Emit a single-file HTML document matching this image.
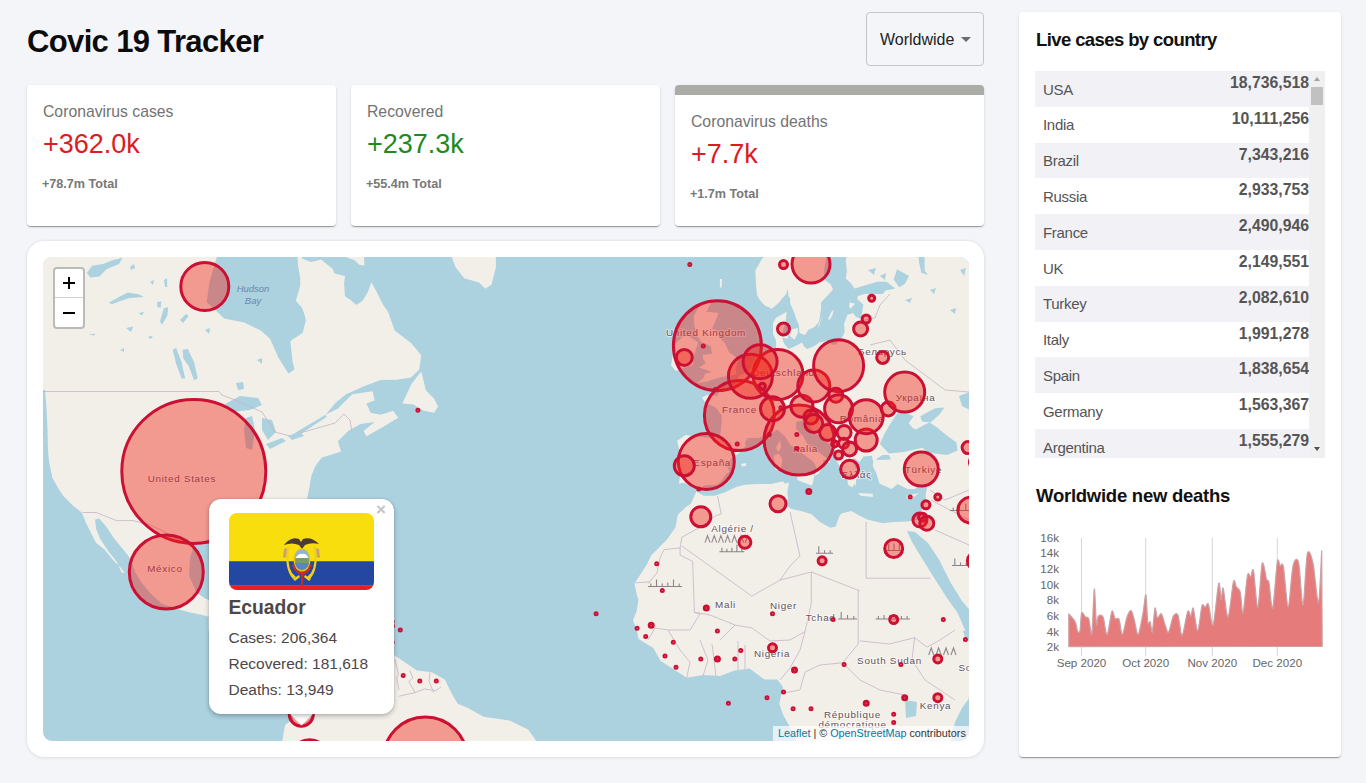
<!DOCTYPE html>
<html><head><meta charset="utf-8">
<style>
html,body{margin:0;padding:0;}
body{width:1366px;height:783px;overflow:hidden;background:#f4f5f9;font-family:"Liberation Sans",sans-serif;position:relative;}
.abs{position:absolute;}
h1{position:absolute;left:27px;top:22px;margin:0;font-size:31px;font-weight:bold;color:#0c0c0c;line-height:40px;letter-spacing:-0.64px;white-space:nowrap;}
.dd{position:absolute;left:866px;top:12px;width:116px;height:52px;border:1px solid #c5c5c8;border-radius:4px;}
.dd span{position:absolute;left:13px;top:18px;font-size:16px;line-height:18px;color:#222;}
.dd i{position:absolute;left:94px;top:24px;width:0;height:0;border-left:5px solid transparent;border-right:5px solid transparent;border-top:5px solid #6b6b6b;}
.card{position:absolute;top:85px;width:309px;height:141px;background:#fff;border-radius:4px;box-shadow:0 2px 1px -1px rgba(0,0,0,.2),0 1px 1px 0 rgba(0,0,0,.14),0 1px 3px 0 rgba(0,0,0,.12);overflow:hidden;}
.card .t{position:absolute;left:16px;top:18px;font-size:15.75px;line-height:18px;color:#737373;white-space:nowrap;}
.card .v{position:absolute;left:16px;top:42.5px;font-size:27px;line-height:32px;white-space:nowrap;}
.card .s{position:absolute;left:15px;top:91.5px;font-size:12.6px;line-height:14px;font-weight:bold;color:#787878;white-space:nowrap;}
.card.sel .bar{position:absolute;left:0;top:0;width:309px;height:10px;background:#abaca6;}
.card.sel .t{top:28px;} .card.sel .v{top:52.5px;} .card.sel .s{top:101.5px;}
.red{color:#dd1b22;} .green{color:#1d8a1d;}
.mapcard{position:absolute;left:27px;top:241px;width:957px;height:516px;background:#fff;border-radius:17px;box-shadow:0 0 3px rgba(40,60,90,.12),0 1px 4px rgba(0,0,0,.05);}
.map{position:absolute;left:43px;top:257px;width:926px;height:484px;overflow:hidden;border-radius:9px;}
.mapsvg{position:absolute;left:0;top:0;}
.lbl{font-family:"Liberation Sans",sans-serif;fill:#64525c;letter-spacing:0.7px;stroke:rgba(255,255,255,.55);stroke-width:2px;paint-order:stroke;stroke-linejoin:round;} .lblw{font-family:"Liberation Sans",sans-serif;fill:#6d87ad;font-style:italic;}
.zoom{position:absolute;left:53px;top:267px;width:28px;height:58px;border:2px solid rgba(0,0,0,.27);border-radius:4px;background:#fff;}
.zoom .p{position:absolute;left:0;top:0;width:28px;height:29px;border-bottom:1px solid #d6d0d0;box-sizing:border-box;}
.zoom .h{position:absolute;background:#000;}
.attr{position:absolute;left:773px;top:726px;width:191px;padding-left:5px;height:15px;background:rgba(255,255,255,.7);font-size:10.8px;line-height:15px;color:#333;white-space:nowrap;}
.attr b{font-weight:normal;color:#0078a8;}
.popup{position:absolute;left:209px;top:499px;width:185px;height:215px;background:#fff;border-radius:12px;box-shadow:0 2px 5px rgba(0,0,0,.26),0 0 2px rgba(0,0,0,.12);}
.tipc{position:absolute;left:281.5px;top:713px;width:40px;height:20px;overflow:hidden;}
.tip{position:absolute;left:11.5px;top:-8.5px;width:17px;height:17px;background:#fff;transform:rotate(45deg);}
.close{position:absolute;left:376px;top:501px;font-size:17px;line-height:18px;font-weight:bold;color:#c3c3c3;}
.flag{position:absolute;left:229px;top:513px;width:145px;height:77px;border-radius:8px;overflow:hidden;}
.pname{position:absolute;left:228.5px;top:597px;font-size:19.3px;line-height:22px;font-weight:bold;color:#4d4748;}
.pl{position:absolute;left:228.5px;font-size:15.5px;line-height:18px;color:#4d4748;white-space:nowrap;}
.panel{position:absolute;left:1019px;top:12px;width:322px;height:745px;background:#fff;border-radius:4px;box-shadow:0 2px 1px -1px rgba(0,0,0,.2),0 1px 1px 0 rgba(0,0,0,.14),0 1px 3px 0 rgba(0,0,0,.12);}
.h3{position:absolute;left:1036px;font-size:18.5px;line-height:22px;font-weight:bold;color:#111;white-space:nowrap;letter-spacing:-0.6px;}
.tblwrap{position:absolute;left:1035px;top:71px;width:290px;height:387px;overflow:hidden;}
.tbl{position:absolute;left:0;top:0;width:274px;height:387px;}
.row{position:absolute;left:0;width:274px;height:35.8px;background:#fff;}
.row.odd{background:#f2f1f6;}
.cn{position:absolute;left:8px;top:9.5px;font-size:15px;line-height:18px;color:#555;letter-spacing:-0.3px;}
.num{position:absolute;right:0;top:3px;font-size:15.8px;line-height:18px;font-weight:bold;color:#555;}
.sbtrack{position:absolute;left:274px;top:0;width:16px;height:387px;background:#f0f0f0;}
.sbthumb{position:absolute;left:276px;top:16px;width:12px;height:18px;background:#c1c1c1;}
.sbup{position:absolute;left:279px;top:6px;width:0;height:0;border-left:3.5px solid transparent;border-right:3.5px solid transparent;border-bottom:4px solid #a3a3a3;}
.sbdn{position:absolute;left:279px;top:376px;width:0;height:0;border-left:3.5px solid transparent;border-right:3.5px solid transparent;border-top:4px solid #505050;}
.chart{position:absolute;left:1019px;top:472px;}
.clbl{font-family:"Liberation Sans",sans-serif;font-size:11.6px;fill:#666;}
</style></head><body>
<h1>Covic 19 Tracker</h1>
<div class="dd"><span>Worldwide</span><i></i></div>
<div class="card" style="left:27px"><div class="t">Coronavirus cases</div><div class="v red">+362.0k</div><div class="s">+78.7m Total</div></div>
<div class="card" style="left:351px"><div class="t">Recovered</div><div class="v green">+237.3k</div><div class="s">+55.4m Total</div></div>
<div class="card sel" style="left:675px"><div class="bar"></div><div class="t">Coronavirus deaths</div><div class="v red">+7.7k</div><div class="s">+1.7m Total</div></div>
<div class="mapcard"></div>
<div class="map">
<svg class="mapsvg" width="926" height="484" viewBox="43 257 926 484">
<rect x="0" y="0" width="1400" height="900" fill="#acd1df"/>
<polygon points="30.0,240.0 216.8,240.0 216.8,257.0 209.7,281.6 206.6,302.0 217.8,312.2 224.0,318.4 244.4,322.5 260.8,330.6 270.0,338.8 278.2,357.2 288.4,373.6 294.5,369.5 292.5,361.3 290.4,340.9 302.7,332.7 305.8,320.4 304.6,315.0 302.0,307.7 295.8,300.7 300.2,285.8 300.2,277.8 298.5,268.2 297.6,258.5 297.6,240.0 302.0,240.0 302.0,258.5 310.8,262.0 321.3,259.4 327.5,264.7 332.7,269.1 334.5,273.5 345.0,276.1 344.1,284.0 345.0,296.3 350.3,299.8 356.4,305.1 362.6,300.7 367.9,291.9 371.4,282.2 376.7,291.9 382.8,304.2 388.1,312.1 394.7,330.6 411.0,342.9 421.3,355.2 419.2,369.5 411.0,377.6 396.7,379.7 380.8,380.0 364.5,386.1 346.1,394.3 335.9,402.5 325.6,414.8 337.9,408.6 352.2,394.3 372.6,391.2 374.7,400.4 366.5,403.5 370.6,412.7 380.8,414.8 393.1,410.7 398.2,417.8 382.9,427.0 366.5,436.2 363.5,431.1 374.7,421.9 360.4,424.0 348.1,431.1 337.9,441.3 341.0,451.5 321.5,457.7 315.4,465.9 311.3,476.1 309.3,488.3 307.2,498.6 300.0,520.0 290.0,545.0 285.0,575.0 270.0,560.0 250.0,545.0 230.0,540.0 208.5,539.0 194.2,545.2 190.1,557.4 189.1,575.8 196.3,592.2 204.4,598.3 213.0,601.4 240.0,610.0 300.0,640.0 330.0,650.0 394.8,655.6 405.9,663.0 417.0,670.4 431.9,672.2 444.8,679.6 452.2,694.4 457.8,703.7 467.0,707.4 483.7,716.7 509.6,720.4 528.1,729.6 535.6,739.8 537.0,760.0 279.0,760.0 285.0,725.0 300.0,714.0 260.0,680.0 208.5,630.0 208.5,616.7 200.3,614.6 190.1,612.6 175.8,608.5 161.5,603.4 149.3,592.2 141.1,582.0 135.0,571.7 130.9,559.5 124.7,551.3 114.5,539.0 106.3,526.8 99.2,518.6 95.1,519.6 96.1,528.8 100.2,539.0 108.4,551.3 116.6,561.5 121.7,572.8 124.7,572.8 120.6,567.6 112.5,559.5 104.3,549.3 96.1,543.1 92.0,535.0 85.9,522.7 81.8,512.5 73.6,506.3 63.4,496.1 59.3,490.0 52.3,477.7 49.0,461.3 48.0,451.1 47.5,430.0 46.5,408.0 45.0,390.0 30.0,390.0" fill="#f2efe9"/>
<polygon points="421.3,371.5 425.8,390.2 434.0,398.4 438.1,406.6 434.0,412.7 423.8,410.7 413.5,404.5 402.3,403.5 411.5,384.1 417.6,376.0" fill="#f2efe9"/>
<polygon points="451.6,240.0 451.6,257.0 455.8,267.6 464.2,278.2 479.0,282.4 485.3,288.7 491.6,284.5 495.9,267.6 495.9,240.0" fill="#f2efe9"/>
<polygon points="345.9,240.0 345.9,257.0 354.7,260.3 359.1,264.7 364.4,265.5 363.5,240.0" fill="#f2efe9"/>
<polygon points="755.0,240.0 769.7,234.0 769.7,252.7 762.0,258.7 755.4,270.4 755.9,282.9 757.0,295.0 759.2,299.3 764.8,305.6 771.9,308.7 779.1,302.4 782.4,298.2 786.2,293.9 787.4,288.4 788.5,296.0 790.1,298.2 790.1,303.5 794.0,311.8 796.2,319.0 798.9,325.0 799.5,332.9 805.0,334.9 808.3,330.0 814.4,327.0 818.8,322.0 819.9,315.9 821.0,308.7 821.0,302.4 828.1,295.0 833.1,289.5 830.3,284.0 824.3,279.5 824.3,268.1 826.5,257.5 833.1,249.0 841.4,240.3 844.1,234.0 828.0,240.0" fill="#f2efe9"/>
<polygon points="851.0,240.0 866.2,234.0 857.9,240.3 847.4,251.4 845.8,261.1 846.9,270.4 845.8,278.4 850.7,282.9 854.6,288.4 866.2,285.1 877.2,281.8 886.5,281.8 895.4,288.4 885.4,290.6 882.7,293.9 864.5,293.9 857.9,296.0 857.3,299.3 863.4,304.6 862.3,310.8 861.2,319.0 856.2,317.0 852.9,312.9 847.4,314.9 844.1,324.0 844.7,331.9 841.4,338.7 838.6,341.6 836.4,344.4 831.4,344.4 829.8,340.6 819.3,342.5 813.8,346.3 807.2,349.1 803.9,346.3 802.2,342.5 795.1,346.3 788.5,349.1 784.6,344.4 782.9,340.6 781.8,333.9 785.1,324.0 786.8,311.8 775.8,318.0 773.0,323.0 773.0,333.9 775.8,339.7 776.3,349.1 772.5,351.9 764.8,353.8 758.7,355.6 754.6,357.9 751.0,367.4 744.4,373.6 738.6,375.8 737.2,382.3 728.9,388.3 722.3,390.0 719.6,387.5 717.4,395.9 709.1,394.2 701.9,397.5 705.2,402.5 715.7,407.4 721.8,415.4 721.8,421.0 720.1,436.4 711.9,437.9 697.0,436.4 685.4,434.9 677.1,440.9 680.4,454.3 676.6,466.6 676.0,471.5 679.9,476.5 678.8,483.4 684.3,482.7 693.7,486.8 698.9,489.6 704.1,485.5 717.4,484.8 722.9,479.2 725.6,474.4 729.5,471.5 726.7,465.9 731.1,458.7 740.5,452.1 746.0,445.4 744.9,442.4 747.7,437.9 758.1,437.9 768.6,434.9 777.4,429.5 785.1,436.4 790.1,444.7 795.6,449.1 806.6,456.5 813.8,462.3 817.1,469.4 814.4,476.5 819.3,472.9 822.6,466.6 823.2,459.4 829.8,463.0 830.3,461.6 821.5,454.3 816.0,450.6 817.1,448.4 808.3,445.4 802.8,435.7 796.2,428.7 796.2,421.7 804.4,420.2 803.3,424.1 807.7,422.5 811.6,428.7 818.8,436.4 828.1,443.2 835.3,448.4 835.3,452.8 835.8,458.7 838.6,464.4 843.0,470.1 848.0,475.1 847.4,479.2 848.0,484.8 852.4,487.5 854.6,483.4 855.7,486.8 856.2,479.2 859.0,477.2 861.7,473.7 855.1,467.3 852.9,460.8 854.6,457.9 859.5,462.3 863.4,456.5 871.7,455.8 873.3,461.6 872.8,465.9 876.6,473.7 879.4,483.4 883.8,485.5 891.5,488.9 897.6,484.1 907.5,488.9 915.2,488.9 919.1,484.8 927.3,486.2 925.7,493.7 925.7,501.1 921.3,511.6 918.0,520.1 906.4,521.4 893.2,522.0 882.7,523.3 867.3,519.5 860.6,516.2 851.3,511.0 841.4,513.6 839.2,516.2 835.8,526.5 830.3,527.8 819.9,522.0 811.6,514.3 801.1,511.0 791.8,509.0 784.0,504.4 787.9,499.0 787.4,491.6 789.0,482.7 784.6,483.4 782.9,481.3 771.4,484.1 758.7,484.1 744.9,484.8 736.7,486.8 725.1,492.3 714.6,495.7 703.6,495.7 696.4,491.6 690.9,503.7 686.5,506.4 677.7,514.9 675.5,527.2 667.2,539.2 651.5,555.1 646.1,565.8 639.0,576.5 634.5,583.7 637.2,596.2 638.5,600.0 636.7,611.1 633.0,620.4 636.7,629.6 638.5,638.9 653.3,648.1 660.7,661.1 675.6,670.4 686.7,677.8 703.3,675.0 720.0,675.9 734.8,670.4 749.6,668.5 757.0,674.1 764.4,679.6 777.4,679.6 783.0,687.0 779.3,703.7 783.0,714.8 790.4,727.8 795.9,738.0 797.0,760.0 990.0,760.0 990.0,240.0" fill="#f2efe9"/>
<polygon points="711.3,302.4 706.3,311.8 718.5,312.9 716.8,318.0 711.9,329.0 716.3,330.0 720.7,338.7 725.1,343.5 728.9,351.9 737.8,358.4 738.0,362.0 735.5,368.3 736.1,371.9 735.5,374.5 722.3,377.1 714.6,378.9 707.4,381.5 697.0,383.2 703.6,378.0 705.2,373.6 711.9,371.9 706.3,370.1 699.2,367.4 705.8,362.9 703.0,358.4 703.0,354.7 711.9,353.8 710.8,346.3 700.8,341.6 697.5,335.8 694.2,325.0 693.7,315.9 699.7,305.6 700.8,302.4" fill="#f2efe9"/>
<polygon points="688.2,335.8 698.1,342.5 694.2,354.7 693.1,364.7 682.6,368.3 676.0,371.0 671.1,365.6 672.7,354.7 673.3,345.4 682.6,336.8" fill="#f2efe9"/>
<polygon points="797.8,475.1 814.4,474.4 812.7,483.4 811.6,485.5 797.3,479.9" fill="#f2efe9"/>
<polygon points="779.1,453.6 782.4,459.4 780.7,468.7 775.8,470.1 774.7,462.3 773.6,455.8" fill="#f2efe9"/>
<polygon points="780.2,440.2 781.3,446.9 778.5,452.1 775.8,447.7" fill="#f2efe9"/>
<polygon points="857.9,493.0 872.8,493.7 872.8,497.0 860.6,495.7" fill="#f2efe9"/>
<polygon points="906.4,495.7 919.1,493.0 910.2,499.7 906.9,498.4" fill="#f2efe9"/>
<polygon points="720.0,279.0 722.0,279.0 721.5,288.0 719.8,287.0" fill="#f2efe9"/>
<polygon points="741.0,464.0 746.0,463.0 746.0,466.0 742.0,466.5" fill="#f2efe9"/>
<polygon points="797.8,328.0 789.0,330.0 789.6,335.8 794.5,339.7 797.8,332.9" fill="#f2efe9"/>
<polygon points="833.6,309.8 831.4,311.8 828.1,319.0 829.8,320.0 832.5,314.9" fill="#f2efe9"/>
<polygon points="783.5,332.9 787.9,333.9 787.9,338.7 782.4,337.8" fill="#f2efe9"/>
<polygon points="822.1,315.9 818.8,327.0 818.2,326.0 821.5,317.0" fill="#f2efe9"/>
<polygon points="849.6,302.4 855.1,303.5 850.7,308.7 849.1,306.7" fill="#f2efe9"/>
<polygon points="882.1,438.7 879.9,443.9 888.8,453.6 903.6,452.1 922.4,447.7 928.4,452.8 947.2,455.0 957.6,450.6 956.5,442.4 947.2,435.7 936.7,427.2 929.5,422.5 924.0,424.9 915.8,429.5 913.0,428.0 908.6,423.3 913.6,416.2 904.2,412.2 897.6,413.0 892.6,420.2 886.0,431.1" fill="#acd1df"/>
<polygon points="907.0,531.0 912.0,542.0 923.0,560.0 934.6,578.5 946.2,597.0 957.7,613.1 964.7,629.3 975.0,640.0 975.0,616.0 962.4,601.6 950.8,583.1 939.3,560.0 928.0,543.0 915.0,532.0" fill="#acd1df"/>
<polygon points="959.0,396.0 970.0,392.0 970.0,410.0 962.0,406.0" fill="#acd1df"/>
<polygon points="975.0,628.0 963.0,631.0 966.0,640.0 975.0,643.0" fill="#acd1df"/>
<polygon points="955.0,722.0 962.0,708.0 975.0,690.0 975.0,745.0 950.0,745.0" fill="#acd1df"/>
<polygon points="920.2,416.2 935.0,408.2 944.4,407.4 939.5,414.6 930.6,422.5 922.4,421.7" fill="#acd1df"/>
<polygon points="875.5,459.4 882.7,455.0 888.8,455.0 891.0,459.4 879.9,460.1" fill="#acd1df"/>
<polygon points="897.0,269.3 909.1,276.1 904.7,284.0 899.2,287.3 893.7,279.5" fill="#acd1df"/>
<polygon points="918.5,255.1 924.6,257.5 924.6,270.4 927.9,275.0 921.3,272.7 919.1,262.2" fill="#acd1df"/>
<polygon points="86.8,272.9 92.2,265.7 102.9,263.9 111.8,260.4 122.6,257.7 119.0,263.9 106.5,269.3 99.3,276.5 90.4,277.4" fill="#acd1df"/>
<polygon points="109.1,302.4 120.8,296.1 127.9,292.6 138.6,294.3 144.0,297.0 129.7,297.9 119.0,301.5 111.8,304.2" fill="#acd1df"/>
<polygon points="163.7,308.6 168.2,306.9 167.3,315.8 161.9,324.7 160.1,321.2" fill="#acd1df"/>
<polygon points="157.0,302.0 161.5,301.5 160.5,308.0 157.5,307.0" fill="#acd1df"/>
<polygon points="182.5,349.8 187.8,348.9 194.1,362.3 197.7,378.4 194.1,380.2 188.7,365.9 183.4,358.7" fill="#acd1df"/>
<polygon points="172.6,349.8 176.2,348.0 181.6,362.3 185.1,378.4 181.6,378.4 176.2,364.1" fill="#acd1df"/>
<polygon points="138.6,313.0 144.0,312.0 142.0,315.8" fill="#acd1df"/>
<polygon points="126.0,328.0 133.3,326.5 131.0,331.9" fill="#acd1df"/>
<polygon points="147.6,337.0 153.0,335.5 151.0,339.0" fill="#acd1df"/>
<polygon points="88.6,334.5 95.7,333.7 94.0,335.5" fill="#acd1df"/>
<polygon points="180.0,320.0 186.0,314.0 188.7,316.0 183.0,323.0" fill="#acd1df"/>
<polygon points="164.0,280.0 167.0,278.0 167.3,287.0 165.0,287.0" fill="#acd1df"/>
<polygon points="130.0,267.0 134.0,264.0 135.0,268.0 131.0,270.0" fill="#acd1df"/>
<polygon points="150.0,282.0 154.0,280.0 153.0,285.0" fill="#acd1df"/>
<polygon points="205.0,330.0 210.0,328.0 209.0,334.0" fill="#acd1df"/>
<polygon points="236.0,383.0 243.0,382.0 244.0,389.0 238.0,390.0" fill="#acd1df"/>
<polygon points="257.0,360.0 262.0,358.0 262.0,364.0" fill="#acd1df"/>
<polygon points="120.0,350.0 124.0,348.0 124.0,352.0" fill="#acd1df"/>
<polygon points="868.0,270.0 876.0,268.0 874.0,275.0" fill="#acd1df"/>
<polygon points="880.0,276.0 886.0,273.0 885.0,280.0" fill="#acd1df"/>
<polygon points="905.0,300.0 912.0,298.0 910.0,303.0" fill="#acd1df"/>
<polygon points="930.0,290.0 936.0,288.0 934.0,294.0" fill="#acd1df"/>
<polygon points="950.0,310.0 956.0,308.0 955.0,314.0" fill="#acd1df"/>
<polygon points="960.0,270.0 966.0,268.0 964.0,276.0" fill="#acd1df"/>
<polygon points="225.0,404.0 240.0,396.0 258.0,398.0 262.0,405.0 250.0,410.0 232.0,412.0" fill="#acd1df"/>
<polygon points="246.0,418.0 252.0,416.0 255.0,430.0 252.0,450.0 246.0,448.0 244.0,430.0" fill="#acd1df"/>
<polygon points="262.0,418.0 272.0,420.0 276.0,432.0 268.0,440.0 262.0,430.0" fill="#acd1df"/>
<polygon points="266.0,444.0 282.0,438.0 286.0,441.0 270.0,449.0" fill="#acd1df"/>
<polygon points="288.0,436.0 300.0,432.0 304.0,436.0 292.0,440.0" fill="#acd1df"/>
<polygon points="905.0,700.0 917.0,702.0 916.0,716.0 906.0,718.0" fill="#acd1df"/>
<polygon points="325.6,414.8 300.0,430.0 290.0,436.0 291.0,438.0 302.0,433.0 326.5,417.0" fill="#acd1df"/>
<polyline points="409.6,670.4 413.0,678.0 408.7,681.5 415.2,692.6" fill="none" stroke="#c6b3c6" stroke-width="0.8"/>
<polyline points="430.0,672.2 429.0,681.5 433.7,692.6" fill="none" stroke="#c6b3c6" stroke-width="0.8"/>
<polyline points="398.5,696.3 415.2,692.6 424.4,688.9 435.6,690.7 441.0,687.0" fill="none" stroke="#c6b3c6" stroke-width="0.8"/>
<polyline points="394.8,659.0 398.5,674.0 396.7,678.0 399.0,690.0" fill="none" stroke="#c6b3c6" stroke-width="0.8"/>
<polyline points="43.0,391.5 219.0,391.5 222.0,395.0 240.0,402.0 262.0,412.0 275.0,432.0 290.0,436.0" fill="none" stroke="#c6b3c6" stroke-width="0.8"/>
<polyline points="300.0,433.0 335.0,423.0 344.0,414.0 350.0,420.0 352.0,432.0" fill="none" stroke="#c6b3c6" stroke-width="0.8"/>
<polyline points="82.8,512.5 96.1,512.5 116.6,520.6 132.9,520.6 149.3,524.7 165.0,532.0 178.0,540.0 190.0,545.0" fill="none" stroke="#c6b3c6" stroke-width="0.8"/>
<polyline points="717.6,496.1 721.2,514.0 715.8,515.7 701.5,526.5 681.9,537.2 680.1,547.9" fill="none" stroke="#c6b3c6" stroke-width="0.8"/>
<polyline points="680.1,547.9 664.0,549.7 660.4,556.9 656.9,572.9 648.0,583.7" fill="none" stroke="#c6b3c6" stroke-width="0.8"/>
<polyline points="635.4,582.8 649.7,581.9" fill="none" stroke="#c6b3c6" stroke-width="0.8"/>
<polyline points="680.1,547.9 680.1,555.1 692.6,561.3 694.4,612.3 700.0,614.0" fill="none" stroke="#c6b3c6" stroke-width="0.8"/>
<polyline points="681.9,546.1 744.4,590.8 751.6,596.2 780.0,580.1 790.0,566.0 800.0,556.0 790.0,512.0" fill="none" stroke="#c6b3c6" stroke-width="0.8"/>
<polyline points="866.1,521.9 866.1,578.2 930.2,578.2" fill="none" stroke="#c6b3c6" stroke-width="0.8"/>
<polyline points="780.0,580.1 811.3,572.0 859.8,590.8" fill="none" stroke="#c6b3c6" stroke-width="0.8"/>
<polyline points="858.2,590.8 858.2,644.0 842.6,662.8" fill="none" stroke="#c6b3c6" stroke-width="0.8"/>
<polyline points="859.8,640.8 889.5,644.0 914.6,637.7 927.1,647.1" fill="none" stroke="#c6b3c6" stroke-width="0.8"/>
<polyline points="811.3,572.0 811.3,603.3 805.0,631.5 790.0,640.0 770.0,641.0 752.0,628.0 735.0,625.0 720.0,640.0" fill="none" stroke="#c6b3c6" stroke-width="0.8"/>
<polyline points="694.4,612.3 710.0,615.0 735.0,625.0" fill="none" stroke="#c6b3c6" stroke-width="0.8"/>
<polyline points="700.0,614.0 690.0,630.0 668.0,630.0 655.0,628.0" fill="none" stroke="#c6b3c6" stroke-width="0.8"/>
<polyline points="655.0,628.0 648.0,640.0" fill="none" stroke="#c6b3c6" stroke-width="0.8"/>
<polyline points="668.0,630.0 680.0,650.0 690.0,662.0 686.7,677.8" fill="none" stroke="#c6b3c6" stroke-width="0.8"/>
<polyline points="700.0,640.0 708.0,660.0 703.3,675.0" fill="none" stroke="#c6b3c6" stroke-width="0.8"/>
<polyline points="712.0,644.0 716.0,676.0" fill="none" stroke="#c6b3c6" stroke-width="0.8"/>
<polyline points="738.0,641.0 738.0,670.0" fill="none" stroke="#c6b3c6" stroke-width="0.8"/>
<polyline points="745.0,645.0 745.0,669.0" fill="none" stroke="#c6b3c6" stroke-width="0.8"/>
<polyline points="805.0,631.5 800.0,650.0 790.0,668.0 780.0,680.0" fill="none" stroke="#c6b3c6" stroke-width="0.8"/>
<polyline points="842.6,662.8 820.0,665.0 805.0,672.0 800.0,690.0 783.0,693.0" fill="none" stroke="#c6b3c6" stroke-width="0.8"/>
<polyline points="842.6,662.8 860.0,680.0 880.0,690.0 905.0,695.0" fill="none" stroke="#c6b3c6" stroke-width="0.8"/>
<polyline points="927.1,647.1 940.0,640.0 955.0,630.0" fill="none" stroke="#c6b3c6" stroke-width="0.8"/>
<polyline points="914.6,637.7 912.0,660.0 925.0,680.0 940.0,690.0 955.0,700.0" fill="none" stroke="#c6b3c6" stroke-width="0.8"/>
<polyline points="905.0,360.0 925.0,375.0 945.0,390.0 969.0,392.0" fill="none" stroke="#c6b3c6" stroke-width="0.8"/>
<polyline points="870.0,345.0 890.0,340.0 905.0,360.0" fill="none" stroke="#c6b3c6" stroke-width="0.8"/>
<polyline points="862.8,320.5 875.0,318.0 880.0,305.0 890.0,294.0" fill="none" stroke="#c6b3c6" stroke-width="0.8"/>
<polyline points="930.0,490.0 945.0,500.0 969.0,490.0" fill="none" stroke="#c6b3c6" stroke-width="0.8"/>
<polyline points="931.0,500.0 969.0,520.0" fill="none" stroke="#c6b3c6" stroke-width="0.8"/>
<polyline points="935.0,530.0 969.0,545.0" fill="none" stroke="#c6b3c6" stroke-width="0.8"/>
<text x="181.9" y="481.6" font-size="9.9" text-anchor="middle" class="lbl">United States</text>
<text x="164.9" y="572.3" font-size="9.9" text-anchor="middle" class="lbl">México</text>
<text x="706.0" y="336.0" font-size="9.9" text-anchor="middle" class="lbl">United Kingdom</text>
<text x="739.5" y="412.9" font-size="9.9" text-anchor="middle" class="lbl">France</text>
<text x="712.2" y="465.6" font-size="9.9" text-anchor="middle" class="lbl">España</text>
<text x="805.5" y="451.9" font-size="9.9" text-anchor="middle" class="lbl">Italia</text>
<text x="783.5" y="376.4" font-size="9.9" text-anchor="middle" class="lbl">Deutschland</text>
<text x="862.0" y="421.6" font-size="9.9" text-anchor="middle" class="lbl">România</text>
<text x="915.5" y="401.0" font-size="9.9" text-anchor="middle" class="lbl">Україна</text>
<text x="882.5" y="355.0" font-size="9.9" text-anchor="middle" class="lbl">Беларусь</text>
<text x="923.5" y="473.0" font-size="9.9" text-anchor="middle" class="lbl">Türkiye</text>
<text x="856.5" y="478.3" font-size="9.9" text-anchor="middle" class="lbl">Ελλάς</text>
<text x="732.5" y="532.4" font-size="9.9" text-anchor="middle" class="lbl">Algérie /</text>
<text x="725.5" y="608.4" font-size="9.9" text-anchor="middle" class="lbl">Mali</text>
<text x="783.5" y="608.9" font-size="9.9" text-anchor="middle" class="lbl">Niger</text>
<text x="805.7" y="621.1" font-size="9.9" text-anchor="start" class="lbl">Tchad</text>
<text x="772.0" y="657.1" font-size="9.9" text-anchor="middle" class="lbl">Nigeria</text>
<text x="889.5" y="664.0" font-size="9.9" text-anchor="middle" class="lbl">South Sudan</text>
<text x="935.5" y="708.7" font-size="9.9" text-anchor="middle" class="lbl">Kenya</text>
<text x="852.5" y="718.1" font-size="9.9" text-anchor="middle" class="lbl">République</text>
<text x="852.5" y="727.6" font-size="9.9" text-anchor="middle" class="lbl">démocratique</text>
<text x="958.5" y="671.2" font-size="9.9" text-anchor="start" class="lbl">So</text>
<text x="253.0" y="292.3" font-size="9.5" text-anchor="middle" class="lblw">Hudson</text>
<text x="253.0" y="304.0" font-size="9.5" text-anchor="middle" class="lblw">Bay</text>
<path d="M719.4,551.8 L744.4,551.8 M721.9,551.8 L721.9,547.8 M726.9,551.8 L726.9,548.8 M731.9,551.8 L731.9,547.8 M736.9,551.8 L736.9,544.8 M741.9,551.8 L741.9,548.8" stroke="#6a5d66" stroke-width="1.1" fill="none" opacity="0.75"/>
<path d="M648.0,586.5 L682.0,586.5 M650.8,586.5 L650.8,583.5 M656.5,586.5 L656.5,579.5 M662.2,586.5 L662.2,583.5 M667.8,586.5 L667.8,582.5 M673.5,586.5 L673.5,579.5 M679.2,586.5 L679.2,583.5" stroke="#6a5d66" stroke-width="1.1" fill="none" opacity="0.75"/>
<path d="M816.0,553.3 L833.0,553.3 M818.8,553.3 L818.8,546.3 M824.5,553.3 L824.5,550.3 M830.2,553.3 L830.2,550.3" stroke="#6a5d66" stroke-width="1.1" fill="none" opacity="0.75"/>
<path d="M875.5,619.0 L910.0,619.0 M878.4,619.0 L878.4,616.0 M884.1,619.0 L884.1,615.0 M889.9,619.0 L889.9,615.0 M895.6,619.0 L895.6,616.0 M901.4,619.0 L901.4,616.0 M907.1,619.0 L907.1,616.0" stroke="#6a5d66" stroke-width="1.1" fill="none" opacity="0.75"/>
<path d="M838.0,619.0 L857.0,619.0 M841.2,619.0 L841.2,612.0 M847.5,619.0 L847.5,615.0 M853.8,619.0 L853.8,616.0" stroke="#6a5d66" stroke-width="1.1" fill="none" opacity="0.75"/>
<path d="M952.0,565.5 L969.0,565.5 M954.8,565.5 L954.8,558.5 M960.5,565.5 L960.5,562.5 M966.2,565.5 L966.2,562.5" stroke="#6a5d66" stroke-width="1.1" fill="none" opacity="0.75"/>
<path d="M886.0,550.5 L902.0,550.5 M888.7,550.5 L888.7,543.5 M894.0,550.5 L894.0,543.5 M899.3,550.5 L899.3,543.5" stroke="#6a5d66" stroke-width="1.1" fill="none" opacity="0.75"/>
<path d="M950.0,510.5 L969.0,510.5 M953.2,510.5 L953.2,507.5 M959.5,510.5 L959.5,503.5 M965.8,510.5 L965.8,503.5" stroke="#6a5d66" stroke-width="1.1" fill="none" opacity="0.75"/>
<path d=" M705.0,542.6 L707.5,535.6 L710.0,542.6 M711.7,542.6 L714.2,535.6 L716.7,542.6 M718.4,542.6 L720.9,535.6 L723.4,542.6 M725.1,542.6 L727.6,535.6 L730.1,542.6 M731.9,542.6 L734.4,535.6 L736.9,542.6 M738.6,542.6 L741.1,535.6 L743.6,542.6 M745.3,542.6 L747.8,535.6 L750.3,542.6" stroke="#6a5d66" stroke-width="1.1" fill="none" opacity="0.7"/>
<path d=" M928.7,655.0 L931.2,648.0 L933.7,655.0 M936.1,655.0 L938.6,648.0 L941.1,655.0 M943.5,655.0 L946.0,648.0 L948.5,655.0 M951.0,655.0 L953.5,648.0 L956.0,655.0" stroke="#6a5d66" stroke-width="1.1" fill="none" opacity="0.7"/>
<ellipse cx="193.8" cy="471.4" rx="72" ry="72" fill="#f22116" fill-opacity="0.42" stroke="#cc1034" stroke-width="3"/>
<ellipse cx="204.8" cy="286.5" rx="24" ry="24" fill="#f22116" fill-opacity="0.42" stroke="#cc1034" stroke-width="3"/>
<ellipse cx="166.3" cy="572.0" rx="37" ry="37" fill="#f22116" fill-opacity="0.42" stroke="#cc1034" stroke-width="3"/>
<ellipse cx="425.3" cy="759.0" rx="42" ry="42" fill="#f22116" fill-opacity="0.42" stroke="#cc1034" stroke-width="3"/>
<ellipse cx="309.6" cy="758.7" rx="19" ry="19" fill="#f22116" fill-opacity="0.42" stroke="#cc1034" stroke-width="3"/>
<ellipse cx="301.3" cy="714.2" rx="12" ry="12" fill="#f22116" fill-opacity="0.42" stroke="#cc1034" stroke-width="3"/>
<ellipse cx="331.6" cy="681.1" rx="20" ry="20" fill="#f22116" fill-opacity="0.42" stroke="#cc1034" stroke-width="3"/>
<ellipse cx="364.7" cy="658.9" rx="3" ry="3" fill="#f22116" fill-opacity="0.42" stroke="#cc1034" stroke-width="3"/>
<ellipse cx="403.2" cy="675.6" rx="1" ry="1" fill="#f22116" fill-opacity="0.42" stroke="#cc1034" stroke-width="3"/>
<ellipse cx="419.8" cy="681.1" rx="1" ry="1" fill="#f22116" fill-opacity="0.42" stroke="#cc1034" stroke-width="3"/>
<ellipse cx="436.3" cy="681.1" rx="1" ry="1" fill="#f22116" fill-opacity="0.42" stroke="#cc1034" stroke-width="3"/>
<ellipse cx="400.3" cy="630.0" rx="1" ry="1" fill="#f22116" fill-opacity="0.42" stroke="#cc1034" stroke-width="3"/>
<ellipse cx="392.2" cy="642.2" rx="1" ry="1" fill="#f22116" fill-opacity="0.42" stroke="#cc1034" stroke-width="3"/>
<ellipse cx="387.8" cy="607.8" rx="1" ry="1" fill="#f22116" fill-opacity="0.42" stroke="#cc1034" stroke-width="3"/>
<ellipse cx="388.5" cy="635.9" rx="1" ry="1" fill="#f22116" fill-opacity="0.42" stroke="#cc1034" stroke-width="3"/>
<ellipse cx="391.1" cy="629.5" rx="1" ry="1" fill="#f22116" fill-opacity="0.42" stroke="#cc1034" stroke-width="3"/>
<ellipse cx="392.4" cy="625.9" rx="1" ry="1" fill="#f22116" fill-opacity="0.42" stroke="#cc1034" stroke-width="3"/>
<ellipse cx="392.2" cy="621.4" rx="1" ry="1" fill="#f22116" fill-opacity="0.42" stroke="#cc1034" stroke-width="3"/>
<ellipse cx="389.0" cy="612.4" rx="1" ry="1" fill="#f22116" fill-opacity="0.42" stroke="#cc1034" stroke-width="3"/>
<ellipse cx="390.4" cy="617.2" rx="1" ry="1" fill="#f22116" fill-opacity="0.42" stroke="#cc1034" stroke-width="3"/>
<ellipse cx="417.9" cy="410.3" rx="1" ry="1" fill="#f22116" fill-opacity="0.42" stroke="#cc1034" stroke-width="3"/>
<ellipse cx="371.6" cy="514.7" rx="1" ry="1" fill="#f22116" fill-opacity="0.42" stroke="#cc1034" stroke-width="3"/>
<ellipse cx="717.4" cy="345.7" rx="44" ry="45" fill="#f22116" fill-opacity="0.42" stroke="#cc1034" stroke-width="3"/>
<ellipse cx="684.3" cy="357.4" rx="8" ry="8" fill="#f22116" fill-opacity="0.42" stroke="#cc1034" stroke-width="3"/>
<ellipse cx="703.3" cy="346.0" rx="1" ry="1" fill="#f22116" fill-opacity="0.42" stroke="#cc1034" stroke-width="3"/>
<ellipse cx="715.4" cy="389.4" rx="1" ry="1" fill="#f22116" fill-opacity="0.42" stroke="#cc1034" stroke-width="3"/>
<ellipse cx="689.8" cy="264.6" rx="1" ry="1" fill="#f22116" fill-opacity="0.42" stroke="#cc1034" stroke-width="3"/>
<ellipse cx="739.4" cy="415.6" rx="35" ry="35" fill="#f22116" fill-opacity="0.42" stroke="#cc1034" stroke-width="3"/>
<ellipse cx="706.3" cy="461.5" rx="28" ry="28" fill="#f22116" fill-opacity="0.42" stroke="#cc1034" stroke-width="3"/>
<ellipse cx="684.3" cy="465.8" rx="10" ry="10" fill="#f22116" fill-opacity="0.42" stroke="#cc1034" stroke-width="3"/>
<ellipse cx="737.2" cy="443.9" rx="1" ry="1" fill="#f22116" fill-opacity="0.42" stroke="#cc1034" stroke-width="3"/>
<ellipse cx="698.8" cy="489.0" rx="1" ry="1" fill="#f22116" fill-opacity="0.42" stroke="#cc1034" stroke-width="3"/>
<ellipse cx="799.1" cy="440.1" rx="35" ry="35" fill="#f22116" fill-opacity="0.42" stroke="#cc1034" stroke-width="3"/>
<ellipse cx="796.8" cy="434.4" rx="1" ry="1" fill="#f22116" fill-opacity="0.42" stroke="#cc1034" stroke-width="3"/>
<ellipse cx="797.0" cy="448.4" rx="1" ry="1" fill="#f22116" fill-opacity="0.42" stroke="#cc1034" stroke-width="3"/>
<ellipse cx="808.8" cy="491.4" rx="2" ry="2" fill="#f22116" fill-opacity="0.42" stroke="#cc1034" stroke-width="3"/>
<ellipse cx="769.2" cy="434.6" rx="1" ry="1" fill="#f22116" fill-opacity="0.42" stroke="#cc1034" stroke-width="3"/>
<ellipse cx="778.0" cy="374.6" rx="25" ry="25" fill="#f22116" fill-opacity="0.42" stroke="#cc1034" stroke-width="3"/>
<ellipse cx="750.4" cy="376.3" rx="22" ry="22" fill="#f22116" fill-opacity="0.42" stroke="#cc1034" stroke-width="3"/>
<ellipse cx="760.1" cy="361.7" rx="17" ry="17" fill="#f22116" fill-opacity="0.42" stroke="#cc1034" stroke-width="3"/>
<ellipse cx="762.4" cy="386.2" rx="3" ry="3" fill="#f22116" fill-opacity="0.42" stroke="#cc1034" stroke-width="3"/>
<ellipse cx="772.5" cy="408.8" rx="12" ry="12" fill="#f22116" fill-opacity="0.42" stroke="#cc1034" stroke-width="3"/>
<ellipse cx="780.9" cy="407.7" rx="1" ry="1" fill="#f22116" fill-opacity="0.42" stroke="#cc1034" stroke-width="3"/>
<ellipse cx="801.9" cy="406.2" rx="11" ry="11" fill="#f22116" fill-opacity="0.42" stroke="#cc1034" stroke-width="3"/>
<ellipse cx="813.8" cy="385.9" rx="16" ry="16" fill="#f22116" fill-opacity="0.42" stroke="#cc1034" stroke-width="3"/>
<ellipse cx="838.6" cy="365.7" rx="25" ry="26" fill="#f22116" fill-opacity="0.42" stroke="#cc1034" stroke-width="3"/>
<ellipse cx="835.8" cy="395.3" rx="7" ry="7" fill="#f22116" fill-opacity="0.42" stroke="#cc1034" stroke-width="3"/>
<ellipse cx="838.6" cy="408.8" rx="14" ry="14" fill="#f22116" fill-opacity="0.42" stroke="#cc1034" stroke-width="3"/>
<ellipse cx="811.0" cy="416.9" rx="7" ry="7" fill="#f22116" fill-opacity="0.42" stroke="#cc1034" stroke-width="3"/>
<ellipse cx="813.8" cy="423.5" rx="9" ry="9" fill="#f22116" fill-opacity="0.42" stroke="#cc1034" stroke-width="3"/>
<ellipse cx="827.6" cy="432.5" rx="8" ry="8" fill="#f22116" fill-opacity="0.42" stroke="#cc1034" stroke-width="3"/>
<ellipse cx="844.1" cy="432.5" rx="7" ry="7" fill="#f22116" fill-opacity="0.42" stroke="#cc1034" stroke-width="3"/>
<ellipse cx="834.7" cy="443.9" rx="3" ry="3" fill="#f22116" fill-opacity="0.42" stroke="#cc1034" stroke-width="3"/>
<ellipse cx="843.6" cy="443.2" rx="5" ry="5" fill="#f22116" fill-opacity="0.42" stroke="#cc1034" stroke-width="3"/>
<ellipse cx="838.6" cy="455.0" rx="4" ry="4" fill="#f22116" fill-opacity="0.42" stroke="#cc1034" stroke-width="3"/>
<ellipse cx="849.6" cy="448.9" rx="7" ry="7" fill="#f22116" fill-opacity="0.42" stroke="#cc1034" stroke-width="3"/>
<ellipse cx="849.6" cy="469.3" rx="9" ry="9" fill="#f22116" fill-opacity="0.42" stroke="#cc1034" stroke-width="3"/>
<ellipse cx="866.2" cy="440.1" rx="11" ry="11" fill="#f22116" fill-opacity="0.42" stroke="#cc1034" stroke-width="3"/>
<ellipse cx="866.2" cy="416.7" rx="17" ry="17" fill="#f22116" fill-opacity="0.42" stroke="#cc1034" stroke-width="3"/>
<ellipse cx="888.2" cy="408.9" rx="7" ry="7" fill="#f22116" fill-opacity="0.42" stroke="#cc1034" stroke-width="3"/>
<ellipse cx="904.7" cy="392.1" rx="20" ry="20" fill="#f22116" fill-opacity="0.42" stroke="#cc1034" stroke-width="3"/>
<ellipse cx="882.7" cy="357.4" rx="6" ry="6" fill="#f22116" fill-opacity="0.42" stroke="#cc1034" stroke-width="3"/>
<ellipse cx="860.6" cy="328.9" rx="7" ry="7" fill="#f22116" fill-opacity="0.42" stroke="#cc1034" stroke-width="3"/>
<ellipse cx="866.2" cy="319.0" rx="4" ry="4" fill="#f22116" fill-opacity="0.42" stroke="#cc1034" stroke-width="3"/>
<ellipse cx="871.7" cy="298.2" rx="3" ry="3" fill="#f22116" fill-opacity="0.42" stroke="#cc1034" stroke-width="3"/>
<ellipse cx="871.7" cy="240.3" rx="5" ry="5" fill="#f22116" fill-opacity="0.42" stroke="#cc1034" stroke-width="3"/>
<ellipse cx="811.0" cy="264.1" rx="19" ry="19" fill="#f22116" fill-opacity="0.42" stroke="#cc1034" stroke-width="3"/>
<ellipse cx="783.5" cy="264.6" rx="4" ry="4" fill="#f22116" fill-opacity="0.42" stroke="#cc1034" stroke-width="3"/>
<ellipse cx="783.5" cy="328.9" rx="6" ry="6" fill="#f22116" fill-opacity="0.42" stroke="#cc1034" stroke-width="3"/>
<ellipse cx="921.3" cy="469.1" rx="17" ry="17" fill="#f22116" fill-opacity="0.42" stroke="#cc1034" stroke-width="3"/>
<ellipse cx="910.2" cy="497.0" rx="1" ry="1" fill="#f22116" fill-opacity="0.42" stroke="#cc1034" stroke-width="3"/>
<ellipse cx="937.8" cy="497.0" rx="3" ry="3" fill="#f22116" fill-opacity="0.42" stroke="#cc1034" stroke-width="3"/>
<ellipse cx="925.9" cy="504.8" rx="4" ry="4" fill="#f22116" fill-opacity="0.42" stroke="#cc1034" stroke-width="3"/>
<ellipse cx="919.9" cy="520.1" rx="7" ry="7" fill="#f22116" fill-opacity="0.42" stroke="#cc1034" stroke-width="3"/>
<ellipse cx="922.6" cy="517.2" rx="4" ry="4" fill="#f22116" fill-opacity="0.42" stroke="#cc1034" stroke-width="3"/>
<ellipse cx="926.8" cy="523.3" rx="7" ry="7" fill="#f22116" fill-opacity="0.42" stroke="#cc1034" stroke-width="3"/>
<ellipse cx="970.9" cy="510.2" rx="13" ry="13" fill="#f22116" fill-opacity="0.42" stroke="#cc1034" stroke-width="3"/>
<ellipse cx="976.4" cy="560.8" rx="9" ry="9" fill="#f22116" fill-opacity="0.42" stroke="#cc1034" stroke-width="3"/>
<ellipse cx="968.1" cy="447.6" rx="6" ry="6" fill="#f22116" fill-opacity="0.42" stroke="#cc1034" stroke-width="3"/>
<ellipse cx="976.4" cy="462.2" rx="7" ry="7" fill="#f22116" fill-opacity="0.42" stroke="#cc1034" stroke-width="3"/>
<ellipse cx="893.7" cy="548.5" rx="9" ry="9" fill="#f22116" fill-opacity="0.42" stroke="#cc1034" stroke-width="3"/>
<ellipse cx="822.1" cy="560.8" rx="4" ry="4" fill="#f22116" fill-opacity="0.42" stroke="#cc1034" stroke-width="3"/>
<ellipse cx="778.0" cy="503.7" rx="8" ry="8" fill="#f22116" fill-opacity="0.42" stroke="#cc1034" stroke-width="3"/>
<ellipse cx="744.9" cy="542.3" rx="6" ry="6" fill="#f22116" fill-opacity="0.42" stroke="#cc1034" stroke-width="3"/>
<ellipse cx="700.8" cy="516.8" rx="10" ry="10" fill="#f22116" fill-opacity="0.42" stroke="#cc1034" stroke-width="3"/>
<ellipse cx="656.7" cy="563.8" rx="1" ry="1" fill="#f22116" fill-opacity="0.42" stroke="#cc1034" stroke-width="3"/>
<ellipse cx="662.3" cy="590.6" rx="1" ry="1" fill="#f22116" fill-opacity="0.42" stroke="#cc1034" stroke-width="3"/>
<ellipse cx="706.3" cy="608.1" rx="2" ry="2" fill="#f22116" fill-opacity="0.42" stroke="#cc1034" stroke-width="3"/>
<ellipse cx="651.2" cy="625.2" rx="2" ry="2" fill="#f22116" fill-opacity="0.42" stroke="#cc1034" stroke-width="3"/>
<ellipse cx="637.1" cy="628.3" rx="1" ry="1" fill="#f22116" fill-opacity="0.42" stroke="#cc1034" stroke-width="3"/>
<ellipse cx="645.7" cy="636.5" rx="1" ry="1" fill="#f22116" fill-opacity="0.42" stroke="#cc1034" stroke-width="3"/>
<ellipse cx="673.3" cy="642.2" rx="1" ry="1" fill="#f22116" fill-opacity="0.42" stroke="#cc1034" stroke-width="3"/>
<ellipse cx="665.0" cy="656.1" rx="1" ry="1" fill="#f22116" fill-opacity="0.42" stroke="#cc1034" stroke-width="3"/>
<ellipse cx="676.0" cy="667.3" rx="1" ry="1" fill="#f22116" fill-opacity="0.42" stroke="#cc1034" stroke-width="3"/>
<ellipse cx="700.8" cy="658.9" rx="1" ry="1" fill="#f22116" fill-opacity="0.42" stroke="#cc1034" stroke-width="3"/>
<ellipse cx="717.4" cy="630.9" rx="1" ry="1" fill="#f22116" fill-opacity="0.42" stroke="#cc1034" stroke-width="3"/>
<ellipse cx="717.4" cy="658.9" rx="2" ry="2" fill="#f22116" fill-opacity="0.42" stroke="#cc1034" stroke-width="3"/>
<ellipse cx="734.8" cy="658.9" rx="1" ry="1" fill="#f22116" fill-opacity="0.42" stroke="#cc1034" stroke-width="3"/>
<ellipse cx="740.8" cy="650.6" rx="1" ry="1" fill="#f22116" fill-opacity="0.42" stroke="#cc1034" stroke-width="3"/>
<ellipse cx="772.5" cy="613.8" rx="1" ry="1" fill="#f22116" fill-opacity="0.42" stroke="#cc1034" stroke-width="3"/>
<ellipse cx="772.5" cy="647.8" rx="4" ry="4" fill="#f22116" fill-opacity="0.42" stroke="#cc1034" stroke-width="3"/>
<ellipse cx="794.5" cy="670.0" rx="2" ry="2" fill="#f22116" fill-opacity="0.42" stroke="#cc1034" stroke-width="3"/>
<ellipse cx="833.1" cy="619.5" rx="1" ry="1" fill="#f22116" fill-opacity="0.42" stroke="#cc1034" stroke-width="3"/>
<ellipse cx="844.1" cy="664.5" rx="1" ry="1" fill="#f22116" fill-opacity="0.42" stroke="#cc1034" stroke-width="3"/>
<ellipse cx="783.5" cy="692.1" rx="1" ry="1" fill="#f22116" fill-opacity="0.42" stroke="#cc1034" stroke-width="3"/>
<ellipse cx="793.1" cy="708.7" rx="1" ry="1" fill="#f22116" fill-opacity="0.42" stroke="#cc1034" stroke-width="3"/>
<ellipse cx="811.0" cy="708.7" rx="1" ry="1" fill="#f22116" fill-opacity="0.42" stroke="#cc1034" stroke-width="3"/>
<ellipse cx="866.2" cy="703.2" rx="2" ry="2" fill="#f22116" fill-opacity="0.42" stroke="#cc1034" stroke-width="3"/>
<ellipse cx="767.0" cy="697.7" rx="1" ry="1" fill="#f22116" fill-opacity="0.42" stroke="#cc1034" stroke-width="3"/>
<ellipse cx="893.7" cy="619.5" rx="4" ry="4" fill="#f22116" fill-opacity="0.42" stroke="#cc1034" stroke-width="3"/>
<ellipse cx="900.9" cy="664.5" rx="1" ry="1" fill="#f22116" fill-opacity="0.42" stroke="#cc1034" stroke-width="3"/>
<ellipse cx="937.8" cy="658.9" rx="4" ry="4" fill="#f22116" fill-opacity="0.42" stroke="#cc1034" stroke-width="3"/>
<ellipse cx="943.3" cy="619.5" rx="1" ry="1" fill="#f22116" fill-opacity="0.42" stroke="#cc1034" stroke-width="3"/>
<ellipse cx="965.4" cy="639.4" rx="1" ry="1" fill="#f22116" fill-opacity="0.42" stroke="#cc1034" stroke-width="3"/>
<ellipse cx="937.8" cy="697.7" rx="4" ry="4" fill="#f22116" fill-opacity="0.42" stroke="#cc1034" stroke-width="3"/>
<ellipse cx="904.7" cy="697.7" rx="2" ry="2" fill="#f22116" fill-opacity="0.42" stroke="#cc1034" stroke-width="3"/>
<ellipse cx="893.7" cy="714.2" rx="1" ry="1" fill="#f22116" fill-opacity="0.42" stroke="#cc1034" stroke-width="3"/>
<ellipse cx="893.7" cy="722.5" rx="1" ry="1" fill="#f22116" fill-opacity="0.42" stroke="#cc1034" stroke-width="3"/>
<ellipse cx="596.1" cy="613.8" rx="1" ry="1" fill="#f22116" fill-opacity="0.42" stroke="#cc1034" stroke-width="3"/>
<ellipse cx="728.4" cy="703.2" rx="1" ry="1" fill="#f22116" fill-opacity="0.42" stroke="#cc1034" stroke-width="3"/>
</svg>
</div>
<div class="zoom"><div class="p"></div><div class="h" style="left:7.5px;top:13px;width:12px;height:2.2px"></div><div class="h" style="left:12.5px;top:8px;width:2.2px;height:12px"></div><div class="h" style="left:8.2px;top:42.7px;width:12px;height:2.2px"></div></div>
<div class="attr"><b>Leaflet</b> | &copy; <b>OpenStreetMap</b> contributors</div>
<div class="tipc"><div class="tip"></div></div>
<div class="popup"></div>
<div class="close">&#215;</div>
<div class="flag"><svg width="145" height="77" viewBox="0 0 145 77"><rect width="145" height="48.5" fill="#f9de0d"/><rect y="48.2" width="145" height="24.3" fill="#2447a1"/><rect y="72.2" width="145" height="5" fill="#e3211f"/>
<path d="M55,32 Q62,23 70,26 L72,29 L74,26 Q82,23 90,31 Q82,29 76,32 L73,36 L70,32 Q63,29 55,32 Z" fill="#4b3a33"/>
<path d="M58,34 L61,33 Q57,50 63,60 L67,64 L64,66 Q55,56 58,34 Z" fill="#f1cf1a"/>
<path d="M87,34 L84,33 Q88,50 82,60 L78,64 L81,66 Q90,56 87,34 Z" fill="#f1cf1a"/>
<path d="M55,36 L58,35 L57,44 L54,45 Z M90,36 L87,35 L88,44 L91,45 Z" fill="#c9a070"/>
<path d="M63,52 Q66,61 73,62 Q80,61 83,52 L81,51 Q78,59 73,59 Q68,59 65,51 Z" fill="#cf2a1f"/>
<ellipse cx="73" cy="47" rx="8.5" ry="11.5" fill="#e7c21c"/>
<ellipse cx="73" cy="47" rx="7" ry="10" fill="#7c9b6c"/>
<path d="M66,45 Q66,37 73,36.5 Q80,37 80,45 Z" fill="#8fb5d6"/>
<path d="M66.5,45 Q70,40 73,41 Q77,40 79.5,45 Z" fill="#ffffff"/>
<path d="M66,50 L80,50 Q79,56 73,57 Q67,56 66,50 Z" fill="#5a86b8"/>
<rect x="72" y="61" width="2.4" height="12" fill="#cf2a1f"/>
<path d="M64,66 L70,62 L71,64 L66,68 Z M82,66 L76,62 L75,64 L80,68 Z" fill="#f1cf1a"/>
</svg>
</div>
<div class="pname">Ecuador</div>
<div class="pl" style="top:628.5px">Cases: 206,364</div>
<div class="pl" style="top:654.5px">Recovered: 181,618</div>
<div class="pl" style="top:680.5px">Deaths: 13,949</div>
<div class="panel"></div>
<div class="h3" style="top:29px">Live cases by country</div>
<div class="tblwrap">
<div class="tbl">
<div class="row odd" style="top:0.0px"><span class="cn">USA</span><span class="num">18,736,518</span></div>
<div class="row" style="top:35.8px"><span class="cn">India</span><span class="num">10,111,256</span></div>
<div class="row odd" style="top:71.6px"><span class="cn">Brazil</span><span class="num">7,343,216</span></div>
<div class="row" style="top:107.4px"><span class="cn">Russia</span><span class="num">2,933,753</span></div>
<div class="row odd" style="top:143.2px"><span class="cn">France</span><span class="num">2,490,946</span></div>
<div class="row" style="top:179.0px"><span class="cn">UK</span><span class="num">2,149,551</span></div>
<div class="row odd" style="top:214.8px"><span class="cn">Turkey</span><span class="num">2,082,610</span></div>
<div class="row" style="top:250.6px"><span class="cn">Italy</span><span class="num">1,991,278</span></div>
<div class="row odd" style="top:286.4px"><span class="cn">Spain</span><span class="num">1,838,654</span></div>
<div class="row" style="top:322.2px"><span class="cn">Germany</span><span class="num">1,563,367</span></div>
<div class="row odd" style="top:358.0px"><span class="cn">Argentina</span><span class="num">1,555,279</span></div>
<div class="row" style="top:393.8px"><span class="cn">Colombia</span><span class="num">1,544,826</span></div>
</div>
<div class="sbtrack"></div><div class="sbthumb"></div><div class="sbup"></div><div class="sbdn"></div>
</div>
<div class="h3" style="top:485px;letter-spacing:-0.25px">Worldwide new deaths</div>
<svg class="chart" width="322" height="220" viewBox="0 0 322 220">
<line x1="62.5" y1="66" x2="62.5" y2="184" stroke="#d6d6d6" stroke-width="1"/>
<line x1="126.70000000000005" y1="66" x2="126.70000000000005" y2="184" stroke="#d6d6d6" stroke-width="1"/>
<line x1="193.29999999999995" y1="66" x2="193.29999999999995" y2="184" stroke="#d6d6d6" stroke-width="1"/>
<line x1="258.29999999999995" y1="66" x2="258.29999999999995" y2="184" stroke="#d6d6d6" stroke-width="1"/>
<path d="M49.8,141.8 C50.8,143.0 54.9,147.2 56.2,149.8 C57.5,152.4 57.9,158.1 58.6,159.4 C59.3,160.7 60.4,161.4 61.0,158.6 C61.6,155.8 61.8,143.0 62.6,141.0 C63.4,139.0 65.4,144.2 66.5,145.0 C67.6,145.8 68.7,144.1 69.7,146.6 C70.7,149.1 72.1,166.2 72.9,161.8 C73.7,157.4 74.6,118.4 75.3,117.0 C76.0,115.6 76.8,148.1 77.4,152.2 C78.0,156.3 78.3,145.3 79.3,144.2 C80.3,143.1 82.8,142.2 84.1,145.0 C85.4,147.8 86.8,163.4 88.1,162.6 C89.4,161.8 91.7,141.8 92.9,139.4 C94.1,137.0 95.0,145.4 96.1,146.6 C97.2,147.8 99.0,145.0 100.1,147.4 C101.2,149.8 102.1,163.0 103.3,162.6 C104.5,162.2 106.7,148.6 108.0,145.0 C109.3,141.4 110.9,138.2 112.0,138.6 C113.1,139.0 114.1,143.8 115.2,147.4 C116.3,151.0 117.9,163.6 119.2,162.6 C120.5,161.6 122.8,147.0 124.0,141.0 C125.2,135.0 126.2,121.3 126.9,122.7 C127.6,124.1 128.2,146.5 128.8,150.6 C129.4,154.7 130.5,148.4 131.2,149.8 C131.9,151.2 132.6,162.2 133.3,160.2 C134.0,158.2 135.2,138.4 136.0,136.2 C136.8,134.0 137.4,145.0 138.4,145.8 C139.4,146.6 141.2,140.6 142.4,141.8 C143.6,143.0 145.3,151.0 146.4,153.8 C147.5,156.6 148.4,161.6 149.6,160.2 C150.8,158.8 152.9,146.7 154.3,144.2 C155.7,141.7 157.8,140.5 159.1,143.4 C160.4,146.3 161.7,164.0 163.1,163.4 C164.5,162.8 167.4,142.3 168.7,139.4 C170.0,136.5 171.1,144.7 171.9,144.2 C172.7,143.7 173.3,134.0 174.3,136.2 C175.3,138.4 177.4,159.0 178.7,158.6 C180.0,158.2 181.9,137.3 183.0,133.8 C184.1,130.3 185.2,135.6 186.2,135.4 C187.2,135.2 188.2,129.6 189.4,132.2 C190.6,134.8 192.6,156.1 194.1,153.0 C195.6,149.9 198.5,115.3 199.7,111.5 C200.9,107.7 201.4,126.7 202.1,127.4 C202.8,128.1 203.2,113.7 204.2,116.3 C205.2,118.9 207.5,146.0 209.0,145.0 C210.5,144.0 213.2,114.4 214.4,109.9 C215.6,105.4 216.3,113.1 217.3,114.7 C218.3,116.3 220.3,116.4 221.3,120.3 C222.3,124.2 222.9,143.5 224.0,141.0 C225.1,138.5 227.3,108.9 228.5,103.5 C229.7,98.1 230.8,105.8 231.7,105.1 C232.6,104.4 233.4,94.2 234.5,98.7 C235.6,103.2 237.5,136.5 238.8,135.4 C240.1,134.3 241.9,95.7 243.2,91.5 C244.5,87.3 246.6,104.6 247.6,107.5 C248.6,110.4 249.1,106.4 250.0,110.7 C250.9,115.0 252.5,139.3 253.7,136.2 C254.9,133.1 257.2,96.2 258.3,89.9 C259.4,83.6 260.3,93.2 261.2,93.9 C262.1,94.6 263.2,88.6 264.4,94.7 C265.6,100.8 267.8,134.7 269.2,134.6 C270.6,134.5 272.4,100.5 274.0,93.9 C275.6,87.3 278.1,84.8 279.6,90.7 C281.1,96.6 282.7,134.3 284.0,133.0 C285.3,131.7 286.8,88.2 288.3,81.9 C289.8,75.6 292.2,83.4 293.9,90.7 C295.6,98.0 298.2,132.4 299.5,130.6 C300.8,128.8 302.2,86.6 302.7,78.8 L303.2,174.5 L49.8,174.6 Z" fill="#e57b7b" stroke="#c9a3a6" stroke-width="1.2" stroke-linejoin="round"/>
<text x="40" y="69.5" text-anchor="end" class="clbl">16k</text>
<text x="40" y="85.2" text-anchor="end" class="clbl">14k</text>
<text x="40" y="100.9" text-anchor="end" class="clbl">12k</text>
<text x="40" y="116.6" text-anchor="end" class="clbl">10k</text>
<text x="40" y="132.3" text-anchor="end" class="clbl">8k</text>
<text x="40" y="148.0" text-anchor="end" class="clbl">6k</text>
<text x="40" y="163.7" text-anchor="end" class="clbl">4k</text>
<text x="40" y="179.4" text-anchor="end" class="clbl">2k</text>
<text x="62.5" y="194.70000000000005" text-anchor="middle" class="clbl">Sep 2020</text>
<text x="126.70000000000005" y="194.70000000000005" text-anchor="middle" class="clbl">Oct 2020</text>
<text x="193.29999999999995" y="194.70000000000005" text-anchor="middle" class="clbl">Nov 2020</text>
<text x="258.29999999999995" y="194.70000000000005" text-anchor="middle" class="clbl">Dec 2020</text>
</svg>
</body></html>
